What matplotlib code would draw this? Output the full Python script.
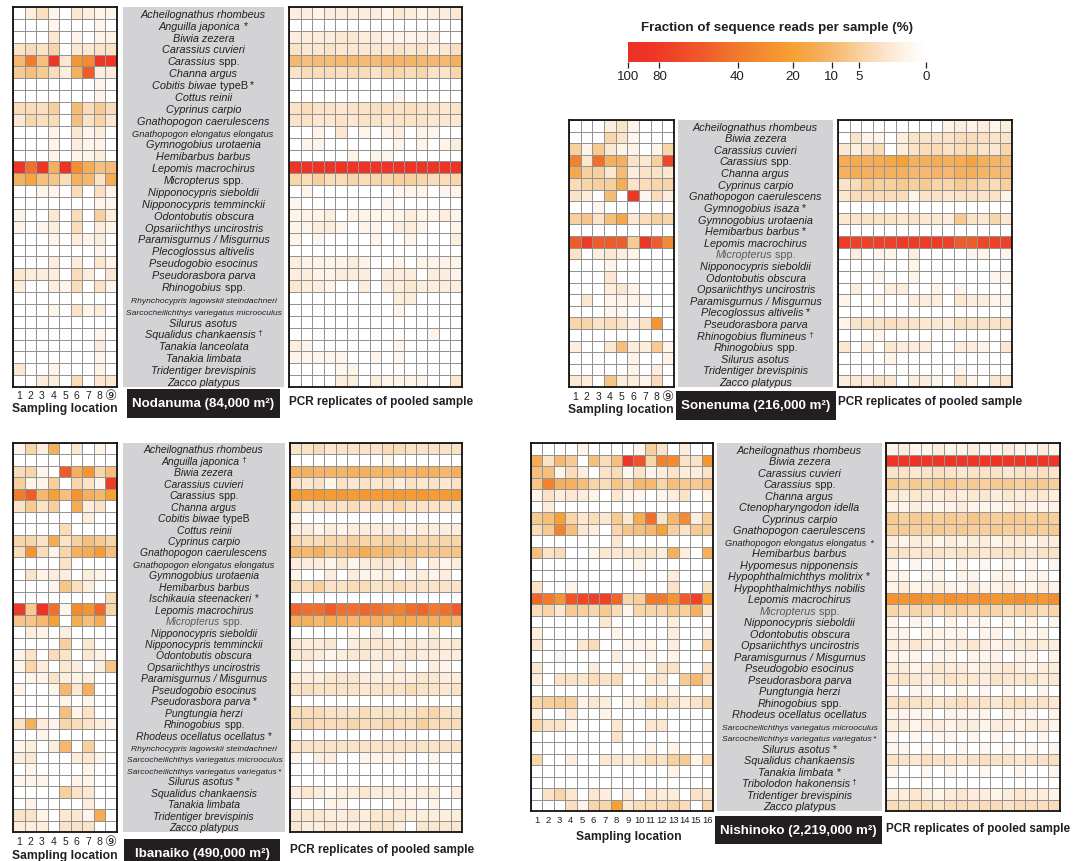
import numpy as np
import matplotlib
matplotlib.use("Agg")
import matplotlib.pyplot as plt
from matplotlib.colors import LinearSegmentedColormap, PowerNorm
from matplotlib.patches import Rectangle
from matplotlib.textpath import TextToPath
from matplotlib.font_manager import FontProperties

plt.rcParams['font.family'] = ['Liberation Sans', 'DejaVu Sans', 'Noto Sans CJK JP']

# ---------------------------------------------------------------- data (%)
nine_sites = ['1', '2', '3', '4', '5', '6', '7', '8', '⑨']
sixteen_sites = [str(i) for i in range(1, 17)]
cbar_ticks = [100, 80, 40, 20, 10, 5, 0]

nodanuma_species = [
    "Acheilognathus rhombeus", "Anguilla japonica *", "Biwia zezera", "Carassius cuvieri",
    "Carassius spp.", "Channa argus", "Cobitis biwae typeB *", "Cottus reinii",
    "Cyprinus carpio", "Gnathopogon caerulescens", "Gnathopogon elongatus elongatus",
    "Gymnogobius urotaenia", "Hemibarbus barbus", "Lepomis macrochirus", "Micropterus spp.",
    "Nipponocypris sieboldii", "Nipponocypris temminckii", "Odontobutis obscura",
    "Opsariichthys uncirostris", "Paramisgurnus / Misgurnus", "Plecoglossus altivelis",
    "Pseudogobio esocinus", "Pseudorasbora parva", "Rhinogobius spp.",
    "Rhynchocypris lagowskii steindachneri", "Sarcocheilichthys variegatus microoculus",
    "Silurus asotus", "Squalidus chankaensis †", "Tanakia lanceolata", "Tanakia limbata",
    "Tridentiger brevispinis", "Zacco platypus",
]
nodanuma_sites = [
    [0, 1, 2.5, 0.5, 0, 1.5, 1, 0.5, 0.5],
    [0, 0, 0, 0.3, 0, 0, 0, 0.3, 0],
    [0, 0, 0, 1.5, 0, 0.5, 0, 0.5, 0.5],
    [2, 3, 2, 4, 0, 1.5, 1.5, 2, 2],
    [10, 40, 8, 85, 1.5, 25, 30, 85, 85],
    [6, 8, 6, 3, 1, 12, 55, 1, 1],
    [0, 0, 0, 0, 0, 0, 0, 0.5, 0],
    [0, 0, 0, 0, 0, 0, 0, 0.5, 0],
    [3, 3, 2.5, 5, 0, 9, 3, 6, 3],
    [1.5, 4, 2.5, 3, 0, 8, 2, 4, 1.5],
    [0, 0, 0, 0.5, 0, 1.5, 0.3, 1, 0],
    [0, 0, 0, 0.5, 0, 1, 0.3, 0.5, 0],
    [0, 0, 0, 0.5, 0, 0.5, 0.3, 1, 0],
    [85, 45, 85, 12, 90, 28, 14, 8, 9],
    [12, 18, 8, 7, 3, 12, 10, 2, 14],
    [0, 0, 0.5, 0.5, 0, 3, 0, 2.5, 0.5],
    [0, 0, 0, 0, 0, 0, 0, 0.5, 0.3],
    [0.5, 0, 0, 1.5, 0, 3, 0, 5, 1],
    [0.5, 0, 0.5, 1, 0, 3, 0, 1, 0.5],
    [0, 0, 0, 0.5, 0, 1, 0.5, 1, 0],
    [0, 0, 0, 0, 0, 0, 0, 0.3, 0],
    [0, 0, 0, 1, 0, 1, 0, 1.5, 0.5],
    [1.5, 1, 1, 1, 0, 3, 1, 0, 1.5],
    [1, 0, 0, 1, 0.5, 3, 0, 2, 0.5],
    [0, 0, 0, 0, 0, 0, 0, 0, 0],
    [0, 0, 0, 0.5, 0, 2, 0.5, 1, 0],
    [0, 0, 0, 0, 0, 0, 0, 0, 0],
    [0, 0, 0, 0, 0, 0, 0, 0.3, 0],
    [0, 0, 0, 0, 0, 0, 0, 1, 0],
    [0, 0, 0, 0, 0, 0, 0, 0.5, 0],
    [1.5, 0, 0, 0.5, 0, 0, 0, 0.5, 0],
    [0, 0, 1, 1, 0, 3, 0, 1.5, 1.5],
]
nodanuma_pcr = [
    [1, 1, 0.5, 1, 1, 1, 1, 1, 0.5, 1.5, 1, 0.5, 1, 1, 1.5],
    [0, 0, 0, 0, 0, 0, 0, 0, 0, 0, 0, 0, 0, 0, 0],
    [1, 1, 1, 1, 1.5, 1.5, 1, 1, 0.5, 0.5, 0.5, 0.5, 1, 0, 0],
    [2, 1.5, 1.5, 2, 1.5, 1.5, 1.5, 1.5, 1.5, 2, 1.5, 2, 1, 1.5, 2.5],
    [10, 8, 9, 9, 10, 10, 9, 9, 11, 11, 11, 10, 10, 10, 12],
    [2, 3, 3, 3, 2.5, 3, 3, 2, 4, 4, 3, 4, 2, 2, 4],
    [0, 0, 0, 0, 0, 0, 0, 0, 0, 0, 0, 0, 0, 0, 0],
    [0, 0, 0, 0, 0, 0, 0, 0, 0, 0.3, 0, 0, 0, 0, 0],
    [2, 3, 2, 2, 1.5, 2, 2, 2.5, 2.5, 2, 2.5, 2, 2, 1.5, 2],
    [2, 2, 1.5, 1.5, 2, 1.5, 2, 2, 1.5, 2, 2, 2, 1.5, 1.5, 1.5],
    [0, 0, 0.5, 0, 1.5, 0, 0.5, 0, 0.5, 1, 0, 0.5, 0.3, 0, 0],
    [0, 0.5, 0.5, 0, 0, 0, 0, 0, 0, 0.5, 0, 0.5, 0, 0.5, 1],
    [0, 0, 0, 0, 0, 0.5, 0, 0.5, 0.5, 0, 0, 0, 0, 0, 0],
    [88, 88, 88, 88, 88, 88, 88, 88, 88, 88, 88, 88, 88, 88, 88],
    [4, 3, 5, 3, 3, 4, 3, 4, 4, 5, 5, 4, 3, 3, 4],
    [0, 0.5, 0, 0, 0, 0, 0, 0, 0, 0.3, 0.5, 0.5, 0, 0.3, 0.5],
    [0.3, 0, 0, 0, 0, 0, 0, 0, 0.3, 0, 0, 0, 0, 0, 0],
    [0.5, 0.5, 0.5, 1, 0, 0.5, 0.5, 0.5, 0.5, 0.5, 1, 0.5, 0.5, 1, 0.5],
    [0.5, 0.5, 1, 1, 0.5, 0, 0.5, 0.5, 0, 1, 1, 0.5, 0, 0, 0.5],
    [0.5, 0, 0.3, 0, 0, 0, 0, 0.5, 0, 0, 0.5, 0, 0, 0, 1],
    [0, 0, 0, 0, 0, 0, 0, 0, 0, 0, 0, 0, 0, 0, 0],
    [1, 0.5, 0.5, 0.5, 0.5, 1, 0.5, 0, 0, 0.5, 0, 0.5, 0.5, 0.5, 0.5],
    [1, 1, 0.5, 0.5, 1, 1, 1, 0, 1, 1, 1, 0, 1, 1, 0.5],
    [1.5, 1, 1, 0.5, 0, 0, 1, 0, 1, 1, 1.5, 1, 1, 1, 1],
    [0, 0, 0, 0, 0, 0, 0, 0, 0, 1, 1, 0, 0, 0, 0],
    [0, 0, 0, 0, 0, 0, 0, 0, 0, 0.5, 0, 0, 0, 0, 0],
    [0, 0, 0, 0, 0, 0, 0, 0, 0, 0, 0, 0, 0, 0, 0],
    [0, 0, 0, 0, 0, 0, 0, 0, 0, 0, 0, 0, 0.5, 0, 0],
    [1, 0.5, 0, 0, 0, 0, 0, 0, 0, 0.5, 0, 0, 0, 0, 0],
    [0.5, 0.5, 0.3, 0.3, 0.3, 0, 0, 0.3, 0, 0.3, 0, 0, 0, 0, 0],
    [0, 0, 0, 0, 0.3, 0.5, 0, 0, 0, 0, 0, 0, 0, 0, 0],
    [0, 0, 0, 0, 1, 1, 0, 1, 0.5, 0.5, 0.5, 0.5, 0, 0, 1.5],
]

sonenuma_species = [
    "Acheilognathus rhombeus", "Biwia zezera", "Carassius cuvieri", "Carassius spp.",
    "Channa argus", "Cyprinus carpio", "Gnathopogon caerulescens", "Gymnogobius isaza *",
    "Gymnogobius urotaenia", "Hemibarbus barbus *", "Lepomis macrochirus", "Micropterus spp.",
    "Nipponocypris sieboldii", "Odontobutis obscura", "Opsariichthys uncirostris",
    "Paramisgurnus / Misgurnus", "Plecoglossus altivelis *", "Pseudorasbora parva",
    "Rhinogobius flumineus †", "Rhinogobius spp.", "Silurus asotus",
    "Tridentiger brevispinis", "Zacco platypus",
]
sonenuma_sites = [
    [0, 0, 0, 1, 2, 0.5, 0, 0, 0],
    [0, 0, 0, 4, 2, 0.3, 0, 0, 0],
    [5, 0.5, 6, 1.5, 0.5, 0.5, 0, 0.5, 4],
    [35, 1.5, 45, 12, 12, 2, 1.5, 5, 70],
    [15, 5, 5, 1.5, 9, 1, 2, 2, 1.5],
    [3, 4, 5, 5, 14, 2, 3, 4, 4],
    [2, 1, 0, 9, 0, 85, 0.3, 3, 1],
    [0, 0, 0.3, 0, 0, 0, 0, 0, 0],
    [5, 7, 2, 8, 16, 1.5, 3, 5, 4],
    [0, 0, 0, 0, 0, 0, 0, 0, 0],
    [55, 80, 55, 55, 55, 6, 85, 55, 30],
    [2, 0, 1, 1.5, 1, 0.5, 0, 0, 0],
    [0, 0, 0, 0.5, 0, 0, 0, 0, 0],
    [0, 0, 0, 1.5, 0, 0, 0, 0, 0],
    [0, 0, 0, 1, 1.5, 0.5, 0, 0, 0],
    [0, 1.5, 0, 0.5, 0.5, 0.5, 0.5, 0, 0],
    [0, 0, 0, 0.3, 0.3, 0, 0, 0, 0],
    [4, 4, 2, 3, 2, 1, 2, 25, 0],
    [0, 0, 0, 0, 0, 0, 0, 0, 0],
    [1, 0, 0, 1.5, 8, 1, 1, 6, 0.5],
    [0, 0, 0, 0, 0, 0.5, 0, 0, 0.5],
    [0, 0, 0, 0, 0, 0.5, 0, 1, 0],
    [1.5, 1, 0, 7, 1, 1, 0.5, 3, 0],
]
sonenuma_pcr = [
    [0, 0, 0, 0, 0, 0, 0, 0, 0, 0.5, 1, 0.5, 1, 0.3, 1],
    [0, 2, 0.5, 0.5, 0, 1, 2, 2, 2, 2, 3, 3, 2.5, 2, 2],
    [1.5, 1, 2, 3, 0, 1, 2, 3, 3, 2, 3, 3, 2, 1.5, 4],
    [14, 14, 13, 14, 16, 20, 12, 12, 13, 12, 14, 18, 12, 11, 10],
    [12, 14, 12, 12, 12, 12, 10, 10, 11, 10, 12, 13, 11, 10, 9],
    [2, 3, 6, 5, 5, 6, 5, 6, 4, 4, 6, 5, 4, 3, 5],
    [1.5, 3, 3, 3, 3, 3, 0.5, 2, 2, 1.5, 2, 2, 2, 2, 0.5],
    [0, 0, 0, 0, 0, 0, 0, 0, 0, 0, 0, 0, 0, 0, 0],
    [1.5, 2, 2, 2, 2, 1.5, 2, 1.5, 1.5, 1, 6, 2, 1.5, 4, 1.5],
    [0, 0, 0, 0, 0, 0, 0, 0, 0, 0, 0, 0, 0, 0, 0],
    [80, 75, 75, 75, 75, 80, 80, 80, 80, 75, 55, 55, 70, 75, 75],
    [0, 1, 0, 0.5, 0.5, 0, 1, 0, 0, 0, 0, 0.5, 0.5, 0, 0.5],
    [0, 0, 0, 0, 0, 0, 0.5, 0, 0, 0, 0, 0, 0, 0, 0],
    [0, 0, 0, 0.5, 0, 0, 0.5, 0, 0, 0, 0, 0, 0, 0.5, 0.5],
    [0, 1, 0, 0, 1, 1, 0, 0, 0.5, 0, 0.5, 0, 0, 0, 0],
    [0.5, 0, 0, 0.5, 0, 0, 1, 1, 1, 0, 1.5, 1, 1, 0.5, 0.5],
    [0, 0, 0, 0, 0, 0, 0, 0, 0, 0, 0, 0, 0, 0, 0],
    [0.5, 2, 2, 2, 2.5, 2, 2, 1.5, 1.5, 1, 2.5, 2, 2, 2, 2],
    [0, 0, 0, 0.5, 0, 0, 0, 0, 0, 0, 0, 0, 0, 0, 0],
    [1.5, 0, 1, 0, 1.5, 1, 1, 1, 0, 0, 1, 1, 0.5, 0, 1.5],
    [0, 0, 0, 0, 0.5, 0, 0, 0, 0, 0, 0, 0, 0, 0, 0],
    [0, 0, 0, 0, 0, 0, 0, 0, 0, 0, 0.5, 0, 0, 0, 0],
    [1, 1.5, 1, 2, 1.5, 0, 1, 1, 0.5, 0, 2, 0.5, 0, 1.5, 1.5],
]

ibanaiko_species = [
    "Acheilognathus rhombeus", "Anguilla japonica †", "Biwia zezera", "Carassius cuvieri",
    "Carassius spp.", "Channa argus", "Cobitis biwae typeB", "Cottus reinii",
    "Cyprinus carpio", "Gnathopogon caerulescens", "Gnathopogon elongatus elongatus",
    "Gymnogobius urotaenia", "Hemibarbus barbus", "Ischikauia steenackeri *",
    "Lepomis macrochirus", "Micropterus spp.", "Nipponocypris sieboldii",
    "Nipponocypris temminckii", "Odontobutis obscura", "Opsariichthys uncirostris",
    "Paramisgurnus / Misgurnus", "Pseudogobio esocinus", "Pseudorasbora parva *",
    "Pungtungia herzi", "Rhinogobius spp.", "Rhodeus ocellatus ocellatus *",
    "Rhynchocypris lagowskii steindachneri", "Sarcocheilichthys variegatus microoculus",
    "Sarcocheilichthys variegatus variegatus *", "Silurus asotus *",
    "Squalidus chankaensis", "Tanakia limbata", "Tridentiger brevispinis", "Zacco platypus",
]
ibanaiko_sites = [
    [0.5, 4, 1, 12, 0, 1.5, 0, 0.5, 0],
    [0, 0, 0, 0, 0, 0, 0, 0, 0],
    [3, 4, 0.5, 0, 55, 12, 25, 4, 8],
    [5, 0.5, 0.5, 5, 0, 4, 2, 0.5, 80],
    [40, 55, 10, 20, 8, 25, 12, 10, 20],
    [2, 6, 2, 5, 0, 14, 1, 2, 0],
    [0, 0, 0, 0, 0, 0, 1, 0, 0],
    [0, 0, 0, 0, 3, 0, 0, 0, 0],
    [4, 4, 2, 14, 2, 5, 8, 6, 4],
    [3, 25, 3, 0.5, 4, 12, 14, 22, 8],
    [0, 0, 0, 0, 2, 0, 0, 0, 0],
    [0, 2, 0.5, 1, 1, 0, 1, 0.5, 0],
    [0, 0, 0, 0.5, 7, 2.5, 1, 0, 0],
    [0, 0, 0, 0, 0, 0, 0, 0, 3],
    [80, 6, 90, 45, 0.5, 30, 25, 50, 4],
    [7, 7, 10, 20, 0, 14, 8, 14, 0],
    [0, 1, 0.5, 0, 1, 0, 0, 0, 0],
    [0, 0, 0, 0, 5, 0, 1.5, 0, 0],
    [0.5, 2, 0, 3, 2, 0, 1.5, 0.5, 0],
    [0.5, 4, 1, 0, 1.5, 1, 0, 1, 7],
    [0, 0.5, 0.5, 2, 1, 0.5, 1, 0, 0],
    [0.5, 0, 0, 0.5, 10, 1.5, 12, 0, 0],
    [0, 0, 0, 0, 0.5, 0, 0.5, 0, 0],
    [0, 0, 0, 0, 8, 0.5, 2, 0, 0],
    [2, 12, 1, 0.5, 4, 3, 2, 1, 0.5],
    [0, 0, 0.5, 0, 0, 0, 0, 0, 0],
    [0.5, 1, 0, 1, 10, 0, 5, 0, 0],
    [1, 1.5, 0, 0, 0, 1, 1.5, 0.5, 0],
    [0, 0.5, 0, 0, 0, 0, 0.5, 0, 0],
    [0.5, 0.5, 0.5, 0, 0, 0.5, 0.5, 0, 0],
    [0, 0, 0, 0, 5, 2, 1.5, 0, 0],
    [0, 0.5, 0, 0, 0, 0, 1, 0, 0],
    [2, 2, 0.5, 0, 1.5, 1.5, 0.5, 14, 0],
    [1, 1, 1, 0, 2, 2, 2, 0, 0],
]
ibanaiko_pcr = [
    [2, 2, 3, 1.5, 2, 2, 2, 2, 3, 3, 2, 2, 2, 2, 2],
    [0, 0, 0, 0, 0, 0, 0, 0, 0.5, 0, 0, 0, 0, 0, 0],
    [12, 12, 11, 11, 11, 12, 12, 11, 11, 11, 10, 12, 12, 10, 12],
    [2, 1.5, 2, 0.5, 2, 1.5, 2, 1.5, 2, 1, 2, 1.5, 2, 1.5, 2],
    [22, 22, 24, 22, 24, 22, 24, 22, 22, 24, 22, 24, 22, 22, 24],
    [3, 1.5, 2, 2.5, 2, 3, 2, 3, 2, 4, 2, 2, 2, 2, 2],
    [0.5, 0, 0, 0, 0, 0, 0, 0, 0, 0, 0, 0, 0, 0, 0],
    [1, 1, 0.5, 1, 0.5, 1, 1, 1, 1, 1, 0.5, 1, 1, 1, 1],
    [4, 3, 3, 4, 4, 5, 4, 4, 5, 5, 4, 4, 4, 4, 4],
    [10, 10, 12, 7, 8, 10, 14, 10, 10, 8, 8, 7, 7, 7, 7],
    [1, 1, 1, 0.5, 1.5, 0.3, 1, 1.5, 1.5, 1, 2, 0, 1, 0.5, 1],
    [0.5, 0, 0, 1, 0, 1, 0.5, 0.5, 1, 0, 0.5, 1, 0.5, 1, 0],
    [3, 3, 5, 2, 2, 3, 3, 2, 2, 3, 2, 2, 2, 2, 2],
    [0, 0, 0, 0, 0, 0, 0, 0, 0, 0, 0, 0, 0, 0, 0],
    [50, 45, 45, 55, 45, 45, 50, 45, 40, 35, 45, 50, 40, 45, 55],
    [12, 12, 10, 14, 12, 10, 12, 12, 10, 16, 14, 12, 12, 14, 10],
    [0, 0, 0, 0, 0, 0.5, 0, 1, 0, 0, 0, 0, 1, 0, 0],
    [1.5, 1, 1, 1.5, 0, 1, 1.5, 1.5, 1.5, 1, 1.5, 1, 1.5, 1, 1.5],
    [1.5, 1.5, 1, 0.5, 1, 1.5, 1.5, 1, 1.5, 1, 1.5, 1, 1, 1, 1],
    [0, 0.5, 0, 0, 0, 0, 0, 1, 0, 1, 0, 0, 1, 0.5, 0],
    [1, 1, 1, 1.5, 1.5, 1.5, 1, 1, 1, 1, 1, 1.5, 1.5, 1, 1],
    [2, 2.5, 2, 2, 2, 2, 1.5, 2, 2, 2, 3, 2, 2, 1.5, 2],
    [0, 0, 0, 0, 0, 0, 0, 0, 0, 0, 0, 0, 0, 0, 0],
    [3, 3, 3, 2, 2, 2, 3, 2, 2, 2, 2, 3, 4, 2, 2],
    [3, 4, 3, 3, 3, 4, 3, 3, 4, 3, 3, 5, 3, 3, 3],
    [0, 0, 0, 0, 0, 0, 0, 0, 0, 0, 0, 0, 0, 0, 0],
    [2, 2, 2, 2, 2, 2, 2, 2, 2, 2, 2, 2, 2, 2, 2],
    [0.5, 0, 1, 1, 0, 0, 0.5, 0.5, 0.5, 0.5, 0, 0, 0.5, 0, 0],
    [0, 0, 0, 0, 0, 0, 0, 0, 0, 0, 0, 0, 0, 0, 0],
    [0, 0, 0, 0, 0, 0, 0, 0, 0, 0, 0, 0, 0, 0, 0],
    [1, 1.5, 1, 0.5, 1, 1, 1.5, 1, 1, 1, 0.5, 1, 1, 0, 1],
    [0, 0, 0, 0.5, 0.5, 0, 0, 0, 0, 0.5, 0.5, 0, 0.5, 0, 0],
    [1.5, 1.5, 1.5, 1, 1, 1.5, 1, 1.5, 1.5, 1.5, 1, 1, 1, 1, 1],
    [1.5, 1, 1, 1.5, 1, 1, 1, 2, 2, 1, 0, 1.5, 1.5, 1.5, 1.5],
]

nishinoko_species = [
    "Acheilognathus rhombeus", "Biwia zezera", "Carassius cuvieri", "Carassius spp.",
    "Channa argus", "Ctenopharyngodon idella", "Cyprinus carpio", "Gnathopogon caerulescens",
    "Gnathopogon elongatus elongatus *", "Hemibarbus barbus", "Hypomesus nipponensis",
    "Hypophthalmichthys molitrix *", "Hypophthalmichthys nobilis", "Lepomis macrochirus",
    "Micropterus spp.", "Nipponocypris sieboldii", "Odontobutis obscura",
    "Opsariichthys uncirostris", "Paramisgurnus / Misgurnus", "Pseudogobio esocinus",
    "Pseudorasbora parva", "Pungtungia herzi", "Rhinogobius spp.",
    "Rhodeus ocellatus ocellatus", "Sarcocheilichthys variegatus microoculus",
    "Sarcocheilichthys variegatus variegatus *", "Silurus asotus *", "Squalidus chankaensis",
    "Tanakia limbata *", "Tribolodon hakonensis †", "Tridentiger brevispinis", "Zacco platypus",
]
nishinoko_sites = [
    [0, 0, 0, 0, 0.5, 0, 0, 0, 0, 0.5, 5, 2, 0, 1, 0, 0],
    [14, 2, 10, 6, 0, 8, 3, 8, 85, 60, 4, 35, 30, 2, 2, 25],
    [8, 8, 0.5, 3, 1, 0, 2, 3, 0.3, 2, 0.5, 1, 2, 1, 1, 2],
    [7, 35, 12, 12, 8, 4, 3, 7, 4, 10, 10, 4, 8, 6, 6, 8],
    [0.5, 2, 1, 1.5, 1, 0.5, 0, 1.5, 0.5, 0.3, 0, 0.3, 1, 2, 0, 0.5],
    [0, 1, 0, 0, 0, 0, 0, 0, 0, 0, 0, 0, 0, 0, 0, 0],
    [6, 8, 20, 4, 1.5, 3, 1.5, 6, 1.5, 14, 45, 2, 10, 30, 1, 5],
    [3, 6, 35, 8, 1.5, 1, 0, 4, 7, 8, 10, 20, 5, 2, 6, 6],
    [0, 0, 0, 0, 0, 0, 0, 1.5, 0, 0, 0, 0, 0, 0, 0, 0],
    [8, 2, 3, 0, 0, 0.5, 1.5, 1.5, 1.5, 2, 2, 1, 12, 1, 0, 12],
    [0, 0, 0, 0, 0, 0, 0, 0, 0, 0.5, 0, 0, 0, 0, 0, 0],
    [0, 0, 0, 0, 0, 0, 0, 0, 0, 0, 0, 0, 1, 0, 0, 0],
    [2, 0, 0, 0.5, 0, 0, 0, 0, 0, 0, 0, 0, 2, 0, 0, 2],
    [50, 40, 25, 60, 70, 75, 75, 50, 4, 5, 40, 40, 25, 55, 75, 20],
    [3, 4, 1.5, 6, 5, 4, 6, 3, 0.5, 4, 4, 4, 6, 5, 12, 1.5],
    [0, 0, 0, 0, 0, 0, 1.5, 0, 0, 0, 0, 0, 1, 0, 0, 0],
    [1, 0, 0, 0, 0, 0, 0, 0.5, 0, 0, 0, 0, 1, 0, 0, 0.5],
    [1.5, 0, 0, 0, 1.5, 3, 0, 0, 0.5, 0.5, 0.5, 0, 1, 0, 0, 4],
    [0, 0, 0.5, 0, 0, 0, 0, 1, 0, 0, 0.5, 0, 0.5, 0, 0, 0],
    [1.5, 0, 0, 0, 0, 1, 0, 0, 0.5, 0.5, 0, 2, 2, 0, 0, 2],
    [1, 0, 2, 2, 1.5, 3, 2, 3, 0, 0, 1.5, 1.5, 0, 6, 10, 3],
    [0, 0, 0, 0, 0, 0, 0, 0, 0, 0, 0, 0, 0.5, 0, 0, 0],
    [4, 5, 6, 5, 0.5, 1.5, 1, 0, 0.5, 1, 3, 3, 2, 1, 2, 4],
    [1, 0, 0, 1.5, 0, 0, 0.5, 0, 0, 0, 0, 0, 0, 0, 0, 0],
    [4, 2, 2, 0.5, 0, 0, 0, 1.5, 0, 0, 1.5, 1.5, 0, 0, 0, 0],
    [0, 0, 0, 0, 0, 0, 0, 2, 0, 0, 0, 0, 0, 0, 0, 0],
    [0, 0, 0, 0, 0, 0, 0, 0, 0, 0, 0.5, 0, 0.5, 0, 0, 0],
    [4, 0, 0, 1, 0, 0, 1.5, 1.5, 1, 1.5, 3, 2, 5, 6, 0.5, 4],
    [0, 0, 0, 0, 0, 0, 0, 0, 0, 0, 0, 0, 0.5, 0, 0, 0],
    [0, 0, 0, 0, 0, 0, 0, 0, 0, 0, 0, 0, 0, 0, 0, 0],
    [0, 2, 4, 1.5, 0, 1.5, 1, 0, 1, 0, 1.5, 1, 1, 0, 2, 1.5],
    [0, 0, 0, 2.5, 0.5, 4, 4, 20, 1.5, 3, 3, 3, 4, 3, 0, 4],
]
nishinoko_pcr = [
    [0.5, 1, 0.5, 0.3, 1, 0.5, 0.5, 1, 0.3, 0.5, 1, 0.5, 0.3, 1, 0.5],
    [85, 85, 90, 85, 85, 88, 85, 85, 85, 90, 85, 85, 88, 85, 85],
    [2, 2, 1.5, 2, 2.5, 2, 1.5, 2, 2, 2, 1.5, 2, 2, 2.5, 2],
    [6, 5, 6, 5, 6, 7, 5, 6, 5, 6, 6, 5, 6, 6, 5],
    [1.5, 1, 1.5, 1.5, 1, 1.5, 1, 1.5, 1.5, 1, 1.5, 1, 1.5, 1.5, 1],
    [0.5, 0.5, 1, 0.5, 0.3, 0.5, 1, 0.5, 0.5, 0.3, 0.5, 1, 0.5, 0.5, 0.5],
    [6, 5, 6, 6, 5, 6, 5, 7, 6, 5, 6, 6, 5, 6, 5],
    [5, 6, 5, 5, 6, 5, 6, 5, 5, 6, 5, 5, 6, 5, 6],
    [1, 0.5, 1, 1, 0.5, 1, 0.5, 1, 1, 0.5, 1, 1, 0.5, 1, 1],
    [2, 2, 1.5, 2, 2, 1.5, 2, 2, 1.5, 2, 2, 2, 1.5, 2, 2],
    [0.3, 0, 0.3, 0, 0.3, 0, 0.3, 0, 0.3, 0, 0.3, 0, 0.3, 0, 0.3],
    [0.5, 0.5, 0, 0.5, 0.5, 0, 0.5, 0.3, 0, 0.5, 0.5, 0, 0.5, 0.3, 0],
    [0.5, 1, 0.5, 0.5, 1, 0.5, 0.3, 1, 0.5, 0.5, 1, 0.5, 0.3, 1, 0.5],
    [25, 25, 28, 25, 24, 28, 25, 25, 28, 24, 25, 28, 25, 24, 28],
    [4, 3, 4, 4, 3, 4, 4, 3, 5, 4, 3, 4, 4, 3, 4],
    [0.5, 0, 0.5, 0.3, 0, 0.5, 0, 0.5, 0.3, 0, 0.5, 0, 0.5, 0, 0.5],
    [0.5, 0.5, 0, 0.5, 0.5, 0.3, 0.5, 0, 0.5, 0.5, 0, 0.5, 0.3, 0.5, 0],
    [1, 1, 1.5, 1, 0.5, 1, 1, 1.5, 1, 0.5, 1, 1, 1.5, 1, 1],
    [0.5, 0.3, 0.5, 0, 0.5, 0.5, 0, 0.5, 0.3, 0.5, 0, 0.5, 0.5, 0, 0.5],
    [1, 1, 0.5, 1, 1.5, 1, 1, 0.5, 1, 1, 1.5, 1, 0.5, 1, 1],
    [1.5, 2, 1.5, 1, 1.5, 2, 1.5, 1.5, 1, 2, 1.5, 1.5, 2, 1, 1.5],
    [0.3, 0, 0.3, 0.3, 0, 0, 0.3, 0, 0.3, 0, 0.3, 0, 0, 0.3, 0],
    [2, 2.5, 2, 2, 1.5, 2, 2.5, 2, 2, 1.5, 2, 2.5, 2, 2, 1.5],
    [0.5, 0.5, 0.3, 0.5, 0, 0.5, 0.5, 0.3, 0.5, 0, 0.5, 0.5, 0.3, 0, 0.5],
    [1, 1, 0.5, 1, 1, 0.5, 1, 1, 0.5, 1, 1, 0.5, 1, 1, 0.5],
    [0.3, 0, 0.3, 0, 0.3, 0.3, 0, 0.3, 0, 0.3, 0, 0.3, 0, 0.3, 0],
    [0.3, 0.3, 0, 0.3, 0, 0, 0.3, 0, 0.3, 0, 0.3, 0, 0.3, 0, 0.3],
    [2, 2, 1.5, 2.5, 2, 2, 1.5, 2, 2.5, 2, 2, 1.5, 2, 2, 2.5],
    [0.3, 0, 0, 0.3, 0, 0.3, 0, 0, 0.3, 0, 0, 0.3, 0, 0, 0.3],
    [0, 0, 0, 0, 0, 0, 0, 0, 0, 0, 0, 0, 0, 0, 0],
    [1, 1, 1.5, 1, 0.5, 1, 1.5, 1, 1, 0.5, 1, 1.5, 1, 1, 0.5],
    [3, 2.5, 3, 3, 2, 3, 3, 2.5, 3, 3, 2, 3, 3, 2.5, 3],
]

# ---------------------------------------------------------------- style
W, H = 1083, 862
TEXT = '#231F20'
GRID = '#939393'
LABEL_BG = '#D3D3D5'
cmap = LinearSegmentedColormap.from_list('reads', [
    (0.00, '#FFFFFF'), (0.07, '#FEF4E9'), (0.12, '#FCE8D2'), (0.20, '#F9D6AA'),
    (0.28, '#F6C07E'), (0.35, '#F5AF5C'), (0.45, '#F7A033'), (0.63, '#F17A2D'),
    (0.75, '#EF5A29'), (0.92, '#EE3526'), (1.00, '#EE3024'),
])
norm = PowerNorm(gamma=0.5, vmin=0, vmax=100)

fig = plt.figure(figsize=(W / 100, H / 100), dpi=100)
_ttp = TextToPath()


def px_box(x0, y0, x1, y1):
    return [x0 / W, 1 - y1 / H, (x1 - x0) / W, (y1 - y0) / H]


def text_width_px(s, size, style):
    prop = FontProperties(family='Liberation Sans', style=style, size=size)
    w, _, _ = _ttp.get_text_width_height_descent(s, prop, ismath=False)
    return w * 100 / 72


def label_pieces(name):
    """Split a species name into italic / upright runs."""
    marker = None
    if name.endswith(' *'):
        marker, name = ' *', name[:-2]
    elif name.endswith(' †'):
        marker, name = ' †', name[:-2]
    pieces, italic = [], []
    for w in name.split(' '):
        if w in ('spp.', 'typeB'):
            if italic:
                pieces.append([' '.join(italic), 'italic'])
                italic = []
            pieces.append([' ' + w, 'normal'])
        else:
            italic.append(w)
    if italic:
        pieces.append([' '.join(italic), 'italic'])
    if marker:
        pieces.append([marker, 'marker'])
    return pieces


def draw_label(xc, y_base, name, size, color):
    pieces = label_pieces(name)
    widths = []
    for s, st in pieces:
        if st == 'marker':
            widths.append(text_width_px(s, size * (0.75 if '†' in s else 1.0), 'normal'))
        else:
            widths.append(text_width_px(s, size, st))
    x = xc - sum(widths) / 2
    for (s, st), w in zip(pieces, widths):
        if st == 'marker':
            small = '†' in s
            fig.text(x / W, 1 - (y_base - (3 if small else 0)) / H, s,
                     fontsize=size * (0.75 if small else 1.0), ha='left', va='baseline',
                     color=color)
        else:
            fig.text(x / W, 1 - y_base / H, s, fontsize=size, style=st,
                     ha='left', va='baseline', color=color)
        x += w


def heatmap(rect, values):
    ax = fig.add_axes(px_box(*rect))
    m = np.asarray(values, dtype=float)
    nr, nc = m.shape
    ax.pcolormesh(np.arange(nc + 1), np.arange(nr + 1), m, cmap=cmap, norm=norm,
                  edgecolors=GRID, linewidth=0.55)
    ax.set_xlim(0, nc)
    ax.set_ylim(nr, 0)
    ax.set_xticks([])
    ax.set_yticks([])
    for s in ax.spines.values():
        s.set_linewidth(1.3)
        s.set_color('#111111')
    return ax


def panel(species, sites, pcr, site_labels, title, left, names, right,
          tick_y, samp_xy, title_box, pcr_y, tick_fs=7.5, name_fs=7.8,
          dim_micropterus=True):
    heatmap(left, sites)
    ncol = len(site_labels)
    xc = left[0] + (np.arange(ncol) + 0.5) * (left[2] - left[0]) / ncol
    for x, lab in zip(xc, site_labels):
        circled = not lab.isascii()
        fig.text(x / W, 1 - tick_y / H, lab, ha='center', va='center',
                 fontsize=tick_fs * (1.3 if circled else 1.0), color=TEXT)
    fig.text(samp_xy[0] / W, 1 - samp_xy[1] / H, 'Sampling location',
             ha='center', va='center', fontsize=8.7, fontweight='bold', color=TEXT)

    axn = fig.add_axes(px_box(*names))
    axn.set_facecolor(LABEL_BG)
    axn.set_xticks([])
    axn.set_yticks([])
    for s in axn.spines.values():
        s.set_visible(False)
    n = len(species)
    pitch = (names[3] - names[1]) / n
    xmid = (names[0] + names[2]) / 2
    for i, sp in enumerate(species):
        fs = name_fs
        if sp.startswith(('Rhynchocypris', 'Sarcocheilichthys')):
            fs = 6.1
        elif sp.startswith('Gnathopogon elongatus'):
            fs = 6.7
        col = '#5a5a5a' if (dim_micropterus and sp.startswith('Micropterus')) else TEXT
        y_base = names[1] + (i + 0.5) * pitch + 0.33 * pitch
        draw_label(xmid, y_base, sp, fs, col)

    heatmap(right, pcr)

    x0, y0, x1, y1 = title_box
    fig.patches.append(Rectangle((x0 / W, 1 - y1 / H), (x1 - x0) / W, (y1 - y0) / H,
                                 transform=fig.transFigure, facecolor=TEXT,
                                 edgecolor='none', zorder=1))
    fig.text((x0 + x1) / 2 / W, 1 - (y0 + 14) / H, title, ha='center', va='center',
             fontsize=9.6, fontweight='bold', color='white', zorder=2)
    fig.text(right[0] / W, 1 - pcr_y / H, 'PCR replicates of pooled sample',
             ha='left', va='center', fontsize=8.5, fontweight='bold', color=TEXT)


panel(nodanuma_species, nodanuma_sites, nodanuma_pcr, nine_sites,
      'Nodanuma (84,000 m²)',
      left=(13, 8, 117, 388), names=(123, 8, 284, 388), right=(289, 8, 462, 388),
      tick_y=396, samp_xy=(65, 409), title_box=(127, 390, 280, 419), pcr_y=402,
      dim_micropterus=False)

panel(sonenuma_species, sonenuma_sites, sonenuma_pcr, nine_sites,
      'Sonenuma (216,000 m²)',
      left=(569, 121, 674, 388), names=(678, 121, 833, 388), right=(838, 121, 1012, 388),
      tick_y=397, samp_xy=(621, 410), title_box=(676, 392, 836, 421), pcr_y=402)

panel(ibanaiko_species, ibanaiko_sites, ibanaiko_pcr, nine_sites,
      'Ibanaiko (490,000 m²)',
      left=(13, 444, 117, 833), names=(123, 444, 285, 833), right=(290, 444, 462, 833),
      tick_y=842, samp_xy=(65, 856), title_box=(124, 840, 280, 869), pcr_y=850,
      name_fs=7.5)

panel(nishinoko_species, nishinoko_sites, nishinoko_pcr, sixteen_sites,
      'Nishinoko (2,219,000 m²)',
      left=(531, 444, 713, 812), names=(717, 444, 882, 812), right=(886, 444, 1060, 812),
      tick_y=821, samp_xy=(629, 837), title_box=(715, 817, 882, 845), pcr_y=829,
      tick_fs=6.8)

# ---------------------------------------------------------------- colour scale
cax = fig.add_axes(px_box(628, 43, 926, 63))
sm = plt.cm.ScalarMappable(norm=norm, cmap=cmap)
cb = fig.colorbar(sm, cax=cax, orientation='horizontal', ticks=cbar_ticks)
cb.outline.set_visible(False)
cax.invert_xaxis()
cax.tick_params(axis='x', length=4, width=0.9, color=TEXT, labelsize=9.6,
                labelcolor=TEXT, pad=2)
cb.set_ticklabels([str(t) for t in cbar_ticks])
fig.text(777 / W, 1 - 28 / H, 'Fraction of sequence reads per sample (%)',
         ha='center', va='center', fontsize=9.6, fontweight='bold', color=TEXT)

fig.savefig('out.png', dpi=100)
